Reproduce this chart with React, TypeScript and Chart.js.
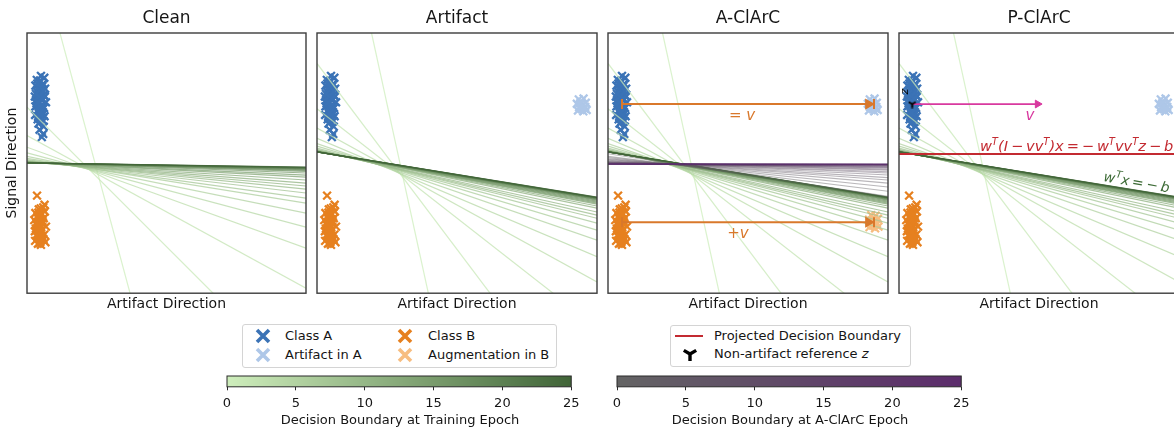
import React, { useEffect, useRef } from "react";
import { Chart, registerables } from "chart.js";

Chart.register(...registerables);

const FONT = "'DejaVu Sans', sans-serif";
const TEXT = "#151515";

// ---------------- data ----------------
const epochs = [0, 1, 2, 3, 4, 5, 6, 7, 8, 9, 10, 11, 12, 13, 14, 15, 16, 17, 18, 19, 20, 21, 22, 23, 24, 25];

// decision boundary of the clean model (y at left edge x=0 and right edge x=100)
const cleanLeft = [147, 71.5, 60.6, 56.1, 53.9, 52.6, 51.8, 51.3, 51.0, 50.8, 50.6, 50.5, 50.4, 50.35, 50.3, 50.25, 50.2, 50.18, 50.16, 50.14, 50.12, 50.11, 50.1, 50.1, 50.1, 50.1];
const cleanRight = [-251, -35.7, 1.9, 17.3, 25.4, 30.8, 34.6, 36.5, 38.5, 40.0, 41.2, 42.3, 43.5, 44.6, 45.4, 46.2, 46.8, 47.2, 47.5, 47.8, 48.0, 48.1, 48.2, 48.3, 48.4, 48.5];

// decision boundary of the artifact model
const artifactLeft = [196, 88.3, 70.9, 63.5, 59.5, 57.5, 56.5, 55.8, 55.3, 55.0, 54.8, 54.7, 54.6, 54.5, 54.45, 54.4, 54.38, 54.36, 54.34, 54.32, 54.3, 54.3, 54.3, 54.3, 54.3, 54.3];
const artifactRight = [-297, -54.6, -13.2, 4.3, 14.0, 20.4, 24.2, 26.9, 28.8, 30.0, 31.2, 32.7, 33.5, 34.2, 34.6, 35.0, 35.4, 35.8, 36.0, 36.2, 36.4, 36.5, 36.6, 36.7, 36.8, 36.9];

// decision boundary during A-ClArC fine-tuning
const aclarcLeft = [53.6, 52.6, 52.1, 51.7, 51.4, 51.1, 50.8, 50.6, 50.4, 50.3, 50.2, 50.1, 50.0, 49.9, 49.85, 49.8, 49.75, 49.72, 49.7, 49.68, 49.66, 49.64, 49.63, 49.62, 49.61, 49.6];
const aclarcRight = [37.2, 39.2, 40.8, 42.3, 43.5, 44.4, 45.4, 46.2, 46.7, 47.3, 47.7, 48.1, 48.3, 48.6, 48.8, 48.9, 49.1, 49.2, 49.3, 49.4, 49.45, 49.5, 49.52, 49.55, 49.58, 49.6];

const projectedBoundaryY = 53.5;

const classAX = [5.0, 6.2, 3.5, 4.6, 5.8, 3.0, 4.2, 6.5, 5.1, 3.6, 4.8, 6.0, 2.8, 4.4, 5.5, 3.3, 6.8, 4.0, 5.2, 3.0, 6.1, 4.6, 3.7, 5.7, 4.3, 2.9, 6.3, 5.0, 3.8, 5.9, 4.1, 6.0, 4.5, 5.8, 5.3, 4.9, 3.4, 5.6, 4.0, 6.4,
  4.7, 5.4, 3.9, 4.9, 5.6, 4.2, 5.0, 3.5, 4.6, 5.3, 4.1, 4.8, 5.9, 3.7, 4.4, 5.2, 4.0, 5.5, 4.5, 3.2];
const classAY = [83.5, 82.8, 82.0, 81.2, 80.5, 79.8, 79.0, 78.6, 78.0, 77.4, 76.8, 76.2, 75.6, 75.0, 74.5, 74.0, 73.4, 72.8, 72.3, 71.8, 71.2, 70.6, 70.1, 69.6, 69.0, 68.5, 68.0, 67.4, 66.8, 66.2, 65.2, 64.0, 62.8, 61.2, 60.0, 77.0, 73.0, 80.0, 68.0, 75.5,
  81.8, 79.5, 78.2, 76.0, 74.2, 73.6, 71.4, 72.0, 69.8, 70.8, 67.6, 66.0, 77.8, 80.6, 75.8, 74.8, 73.2, 71.0, 69.2, 76.6];

const classBX = [3.6, 5.8, 4.2, 6.4, 3.0, 5.0, 3.8, 6.0, 2.6, 4.6, 5.6, 3.4, 6.8, 4.0, 5.2, 2.8, 4.8, 6.2, 3.6, 5.4, 4.4, 2.9, 6.6, 3.9, 5.0, 4.1, 5.5, 3.2, 5.9, 4.5, 3.5, 6.3, 4.7,
  4.9, 5.3, 3.9, 4.3, 5.7, 4.0, 5.1, 3.6, 4.6, 5.4, 4.2, 4.8, 3.3, 5.0, 4.4];
const classBY = [37.5, 33.0, 32.2, 31.4, 30.8, 30.1, 29.4, 28.8, 28.1, 27.5, 26.9, 26.3, 25.6, 25.0, 24.4, 23.8, 23.2, 22.5, 21.9, 21.3, 20.7, 20.1, 19.6, 19.0, 18.6, 31.0, 27.8, 24.8, 20.8, 29.0, 22.5, 34.0, 19.5,
  32.6, 30.6, 29.8, 28.4, 27.2, 26.6, 25.4, 24.2, 23.6, 22.0, 21.6, 20.2, 27.0, 30.4, 19.3];

const artifactAX = [93.5, 95.2, 94.3, 96.0, 92.8, 94.8, 95.8, 93.6, 94.5, 96.3, 93.2, 95.1, 94.0, 95.5];
const artifactAY = [74.5, 74.8, 73.6, 73.2, 72.8, 72.4, 71.6, 71.5, 70.8, 70.4, 70.2, 69.9, 73.0, 71.0];

const augBX = [94.0, 95.6, 94.8, 96.4, 93.2, 95.2, 96.0, 93.8, 94.6, 96.6, 93.4, 95.4, 94.2, 95.8];
const augBY = [30.0, 29.8, 28.9, 28.6, 28.2, 27.6, 26.9, 26.8, 26.0, 25.6, 25.4, 24.9, 28.0, 26.2];

const shiftStartX = 5;
const shiftHeadX = 93;
const shiftEndX = 95;
const shiftYA = 72.7;
const shiftYB = 27.3;
const vStartX = 4.7;
const vHeadX = 49.5;
const vY = 72.7;
const refZX = 4.7;
const refZY = 72.7;

const colorbarTicks = [0, 5, 10, 15, 20, 25];

// ---------------- styles ----------------
const C = {
  classA: "#3b73b6",
  artA: "#aec7e8",
  classB: "#e6801f",
  augB: "#f7bd80",
  shift: "#d9782b",
  v: "#d8399f",
  proj: "#c32a31",
  greenText: "#3d6b36",
};
const GREEN0 = [206, 238, 188];
const GREEN1 = [64, 100, 55];
const PURP0 = [100, 100, 100];
const PURP1 = [92, 44, 108];

function cmap(c0: number[], c1: number[], t: number, a: number) {
  const c = c0.map((v, i) => Math.round(v + (c1[i] - v) * t));
  return `rgba(${c[0]},${c[1]},${c[2]},${a})`;
}

function pts(xs: number[], ys: number[]) {
  return xs.map((x, i) => ({ x, y: ys[i] }));
}

function scatterDs(xs: number[], ys: number[], color: string) {
  return {
    type: "scatter",
    data: pts(xs, ys),
    pointStyle: "crossRot",
    pointRadius: 5.5,
    pointHoverRadius: 5.5,
    pointBorderWidth: 2.3,
    borderColor: color,
    backgroundColor: color,
    order: 300,
  };
}

function boundaryDs(left: number[], right: number[], c0: number[], c1: number[], alpha: number, width: number, base: number) {
  return epochs.map((e, i) => ({
    type: "line",
    showLine: true,
    data: [
      { x: 0, y: left[i] },
      { x: 100, y: right[i] },
    ],
    borderColor: cmap(c0, c1, e / 25, alpha),
    borderWidth: width,
    pointRadius: 0,
    pointHoverRadius: 0,
    fill: false,
    order: base - i,
  }));
}

function triDown(size: number, lw: number) {
  const c = document.createElement("canvas");
  c.width = size;
  c.height = size;
  const g = c.getContext("2d")!;
  g.strokeStyle = "#000";
  g.lineWidth = lw;
  const m = size / 2;
  const r = size / 2 - 0.5;
  g.beginPath();
  g.moveTo(m, m);
  g.lineTo(m, m + r);
  g.moveTo(m, m);
  g.lineTo(m - r * 0.866, m - r * 0.5);
  g.moveTo(m, m);
  g.lineTo(m + r * 0.866, m - r * 0.5);
  g.stroke();
  return c;
}

function shiftArrow(y: number) {
  return [
    {
      type: "line",
      showLine: true,
      data: [
        { x: shiftStartX, y },
        { x: shiftHeadX, y },
      ],
      borderColor: C.shift,
      borderWidth: 2,
      pointStyle: ["line", "triangle"],
      pointRotation: [90, 90],
      pointRadius: [5, 4.5],
      pointHoverRadius: [5, 4.5],
      pointBorderWidth: 2,
      pointBorderColor: C.shift,
      pointBackgroundColor: C.shift,
      order: 10,
    },
    {
      type: "scatter",
      data: [{ x: shiftEndX, y }],
      pointStyle: "line",
      pointRotation: 90,
      pointRadius: 5,
      pointHoverRadius: 5,
      pointBorderWidth: 2,
      borderColor: C.shift,
      order: 10,
    },
  ];
}

type Part = { t: string; sup?: boolean };
type Ann = { x: number; y: number; parts: Part[]; color: string; size: number; rot?: number; align?: string };

function annPlugin(anns: Ann[]) {
  return {
    id: "anns",
    afterDatasetsDraw(chart: any) {
      const ctx = chart.ctx;
      const xs = chart.scales.x;
      const ys = chart.scales.y;
      for (const a of anns) {
        const px = xs.getPixelForValue(a.x);
        const py = ys.getPixelForValue(a.y);
        const main = `italic ${a.size}px ${FONT}`;
        const sup = `italic ${Math.round(a.size * 0.7)}px ${FONT}`;
        ctx.save();
        ctx.translate(px, py);
        ctx.rotate(((a.rot || 0) * Math.PI) / 180);
        ctx.fillStyle = a.color;
        ctx.textBaseline = "alphabetic";
        ctx.textAlign = "left";
        let w = 0;
        for (const p of a.parts) {
          ctx.font = p.sup ? sup : main;
          w += ctx.measureText(p.t).width;
        }
        let cx = a.align === "center" ? -w / 2 : 0;
        for (const p of a.parts) {
          ctx.font = p.sup ? sup : main;
          ctx.fillText(p.t, cx, p.sup ? -a.size * 0.42 : 0);
          cx += ctx.measureText(p.t).width;
        }
        ctx.restore();
      }
    },
  };
}

const framePlugin = {
  id: "frame",
  afterDraw(chart: any) {
    const { ctx, chartArea: a } = chart;
    ctx.save();
    ctx.strokeStyle = "#3c3c3c";
    ctx.lineWidth = 1.4;
    ctx.strokeRect(a.left, a.top, a.right - a.left, a.bottom - a.top);
    ctx.restore();
  },
};

const PANEL_H = 313;

function Panel(props: { left: number; width: number; padL: number; padR: number; title: string; yLabel?: boolean; build: () => any[]; anns: Ann[] }) {
  const ref = useRef<HTMLCanvasElement>(null);
  useEffect(() => {
    const chart = new Chart(ref.current!, {
      type: "scatter",
      data: { datasets: props.build() },
      options: {
        animation: false,
        responsive: false,
        maintainAspectRatio: false,
        events: [],
        layout: { autoPadding: false, padding: { left: props.padL, right: props.padR, top: 0, bottom: 0 } },
        plugins: {
          legend: { display: false },
          tooltip: { enabled: false },
          title: {
            display: true,
            text: props.title,
            fullSize: false,
            color: TEXT,
            font: { family: FONT, size: 17, weight: "normal" },
            padding: { top: 8, bottom: 4.6 },
          },
        },
        scales: {
          x: {
            type: "linear",
            min: 0,
            max: 100,
            ticks: { display: false },
            grid: { display: false, drawTicks: false },
            border: { display: false },
            title: {
              display: true,
              text: "Artifact Direction",
              color: TEXT,
              font: { family: FONT, size: 14 },
              padding: { top: 3, bottom: 0 },
            },
          },
          y: {
            type: "linear",
            min: 0,
            max: 100,
            display: !!props.yLabel,
            ticks: { display: false },
            grid: { display: false, drawTicks: false },
            border: { display: false },
            title: {
              display: !!props.yLabel,
              text: "Signal Direction",
              color: TEXT,
              font: { family: FONT, size: 14 },
              padding: { top: 3.6, bottom: 6.6 },
            },
          },
        },
      } as any,
      plugins: [annPlugin(props.anns), framePlugin],
    });
    return () => chart.destroy();
  }, []);
  return (
    <canvas
      ref={ref}
      width={props.width}
      height={PANEL_H}
      style={{ position: "absolute", left: props.left, top: 0, width: props.width, height: PANEL_H }}
    />
  );
}

const CB_TOP = 374;
const CB_H = 58;

function Colorbar(props: { left: number; label: string; c0: number[]; c1: number[] }) {
  const ref = useRef<HTMLCanvasElement>(null);
  useEffect(() => {
    const gradientPlugin = {
      id: "grad",
      beforeDatasetsDraw(chart: any) {
        const { ctx, chartArea: a } = chart;
        const xs = chart.scales.x;
        const x0 = xs.getPixelForValue(colorbarTicks[0]);
        const x1 = xs.getPixelForValue(colorbarTicks[colorbarTicks.length - 1]);
        const g = ctx.createLinearGradient(x0, 0, x1, 0);
        colorbarTicks.forEach((v) => g.addColorStop(v / 25, cmap(props.c0, props.c1, v / 25, 1)));
        ctx.save();
        ctx.fillStyle = g;
        ctx.fillRect(x0, a.top, x1 - x0, a.bottom - a.top);
        ctx.strokeStyle = "#2a2a2a";
        ctx.lineWidth = 1;
        ctx.strokeRect(x0, a.top, x1 - x0, a.bottom - a.top);
        ctx.restore();
      },
    };
    const chart = new Chart(ref.current!, {
      type: "scatter",
      data: { datasets: [] },
      options: {
        animation: false,
        responsive: false,
        maintainAspectRatio: false,
        events: [],
        layout: { autoPadding: false, padding: { left: 12, right: 12, top: 2, bottom: 3.2 } },
        plugins: {
          legend: { display: false },
          tooltip: { enabled: false },
          title: {
            display: true,
            position: "bottom",
            text: props.label,
            color: TEXT,
            font: { family: FONT, size: 13, weight: "normal" },
            padding: { top: 0, bottom: 0 },
          },
        },
        scales: {
          x: {
            type: "linear",
            min: 0,
            max: 25,
            afterBuildTicks: (s: any) => {
              s.ticks = colorbarTicks.map((v) => ({ value: v }));
            },
            ticks: { color: TEXT, font: { family: FONT, size: 13 }, padding: 5.5, maxRotation: 0, autoSkip: false },
            grid: { display: true, drawOnChartArea: false, drawTicks: true, tickLength: 3.5, color: "#2a2a2a", lineWidth: 1 },
            border: { display: false },
          },
          y: { display: false, min: 0, max: 1 },
        },
      } as any,
      plugins: [gradientPlugin],
    });
    return () => chart.destroy();
  }, []);
  return <canvas ref={ref} width={370} height={CB_H} style={{ position: "absolute", left: props.left, top: CB_TOP, width: 370, height: CB_H }} />;
}

function XMark({ color, cx, cy }: { color: string; cx: number; cy: number }) {
  return (
    <svg width={16} height={16} style={{ position: "absolute", left: cx - 8, top: cy - 8 }}>
      <path d="M2 2 L14 14 M14 2 L2 14" stroke={color} strokeWidth={3.6} fill="none" />
    </svg>
  );
}

function Label({ x, cy, children }: { x: number; cy: number; children: any }) {
  return (
    <div style={{ position: "absolute", left: x, top: cy - 8, height: 16, lineHeight: "16px", fontSize: 13, whiteSpace: "nowrap", color: TEXT }}>
      {children}
    </div>
  );
}

function Legends() {
  return (
    <>
      <div style={{ position: "absolute", left: 242, top: 324, width: 315, height: 44, boxSizing: "border-box", border: "1px solid #d4d4d4", borderRadius: 3, background: "#fff" }} />
      <XMark color={C.classA} cx={263} cy={335.5} />
      <Label x={285} cy={335.5}>Class A</Label>
      <XMark color={C.artA} cx={263} cy={355} />
      <Label x={285} cy={355}>Artifact in A</Label>
      <XMark color={C.classB} cx={405} cy={335.5} />
      <Label x={428} cy={335.5}>Class B</Label>
      <XMark color={C.augB} cx={405} cy={355} />
      <Label x={428} cy={355}>Augmentation in B</Label>

      <div style={{ position: "absolute", left: 670, top: 325, width: 241, height: 42, boxSizing: "border-box", border: "1px solid #d4d4d4", borderRadius: 3, background: "#fff" }} />
      <div style={{ position: "absolute", left: 675, top: 335, width: 28, height: 2, background: C.proj }} />
      <Label x={714} cy={336}>Projected Decision Boundary</Label>
      <svg width={16} height={16} style={{ position: "absolute", left: 682, top: 346 }}>
        <path d="M8 8 L8 15 M8 8 L1.8 4.4 M8 8 L14.2 4.4" stroke="#000" strokeWidth={3.4} fill="none" />
      </svg>
      <Label x={714} cy={354}>
        Non-artifact reference <i>z</i>
      </Label>
    </>
  );
}

const TH = "\u2009";

export default function App() {
  const cleanBuild = () => [
    ...boundaryDs(cleanLeft, cleanRight, GREEN0, GREEN1, 0.75, 1.2, 200),
    scatterDs(classAX, classAY, C.classA),
    scatterDs(classBX, classBY, C.classB),
  ];
  const artifactBuild = () => [
    ...boundaryDs(artifactLeft, artifactRight, GREEN0, GREEN1, 0.75, 1.2, 200),
    scatterDs(classAX, classAY, C.classA),
    scatterDs(classBX, classBY, C.classB),
    scatterDs(artifactAX, artifactAY, C.artA),
  ];
  const aclarcBuild = () => [
    ...shiftArrow(shiftYA),
    ...shiftArrow(shiftYB),
    ...boundaryDs(aclarcLeft, aclarcRight, PURP0, PURP1, 0.45, 1.1, 100),
    ...boundaryDs(artifactLeft, artifactRight, GREEN0, GREEN1, 0.75, 1.2, 200),
    scatterDs(classAX, classAY, C.classA),
    scatterDs(classBX, classBY, C.classB),
    scatterDs(artifactAX, artifactAY, C.artA),
    scatterDs(augBX, augBY, C.augB),
  ];
  const pclarcBuild = () => [
    {
      type: "scatter",
      data: [{ x: refZX, y: refZY }],
      pointStyle: triDown(9, 2),
      pointRadius: 5,
      pointHoverRadius: 5,
      order: 0,
    },
    {
      type: "line",
      showLine: true,
      data: [
        { x: vStartX, y: vY },
        { x: vHeadX, y: vY },
      ],
      borderColor: C.v,
      borderWidth: 1.8,
      pointStyle: ["circle", "triangle"],
      pointRotation: [0, 90],
      pointRadius: [0, 4.5],
      pointHoverRadius: [0, 4.5],
      pointBorderColor: C.v,
      pointBackgroundColor: C.v,
      pointBorderWidth: 1,
      order: 5,
    },
    {
      type: "line",
      showLine: true,
      data: [
        { x: 0, y: projectedBoundaryY },
        { x: 100, y: projectedBoundaryY },
      ],
      borderColor: C.proj,
      borderWidth: 2,
      pointRadius: 0,
      pointHoverRadius: 0,
      order: 20,
    },
    ...boundaryDs(artifactLeft, artifactRight, GREEN0, GREEN1, 0.75, 1.2, 200),
    scatterDs(classAX, classAY, C.classA),
    scatterDs(classBX, classBY, C.classB),
    scatterDs(artifactAX, artifactAY, C.artA),
  ];

  const aclarcAnns: Ann[] = [
    { x: 47.9, y: 66.5, parts: [{ t: "= v" }], color: C.shift, size: 15, align: "center" },
    { x: 46.4, y: 21.2, parts: [{ t: "+v" }], color: C.shift, size: 15, align: "center" },
  ];
  const pclarcAnns: Ann[] = [
    { x: 46.8, y: 66.5, parts: [{ t: "v" }], color: C.v, size: 15, align: "center" },
    { x: 3.2, y: 77.5, parts: [{ t: "z" }], color: "#000", size: 11, rot: -90, align: "center" },
    {
      x: 28.9,
      y: 54.6,
      parts: [
        { t: "w" },
        { t: "T", sup: true },
        { t: `(I${TH}−${TH}vv` },
        { t: "T", sup: true },
        { t: `)x${TH}=${TH}−${TH}w` },
        { t: "T", sup: true },
        { t: "vv" },
        { t: "T", sup: true },
        { t: `z${TH}−${TH}b` },
      ],
      color: C.proj,
      size: 14.6,
    },
    {
      x: 72.9,
      y: 43.1,
      parts: [{ t: "w" }, { t: "T", sup: true }, { t: `x${TH}=${TH}−${TH}b` }],
      color: C.greenText,
      size: 14,
      rot: 10,
    },
  ];

  return (
    <div style={{ position: "fixed", left: 0, top: 0, width: 1174, height: 428, overflow: "hidden", background: "#fff", fontFamily: FONT, color: TEXT }}>
      <Panel left={0} width={308} padL={0} padR={2} title="Clean" yLabel build={cleanBuild} anns={[]} />
      <Panel left={315} width={284} padL={2} padR={2} title="Artifact" build={artifactBuild} anns={[]} />
      <Panel left={606} width={284} padL={2} padR={2} title="A-ClArC" build={aclarcBuild} anns={aclarcAnns} />
      <Panel left={897} width={284} padL={2} padR={2} title="P-ClArC" build={pclarcBuild} anns={pclarcAnns} />
      <Legends />
      <Colorbar left={215} label="Decision Boundary at Training Epoch" c0={GREEN0} c1={GREEN1} />
      <Colorbar left={605} label="Decision Boundary at A-ClArC Epoch" c0={PURP0} c1={PURP1} />
    </div>
  );
}
